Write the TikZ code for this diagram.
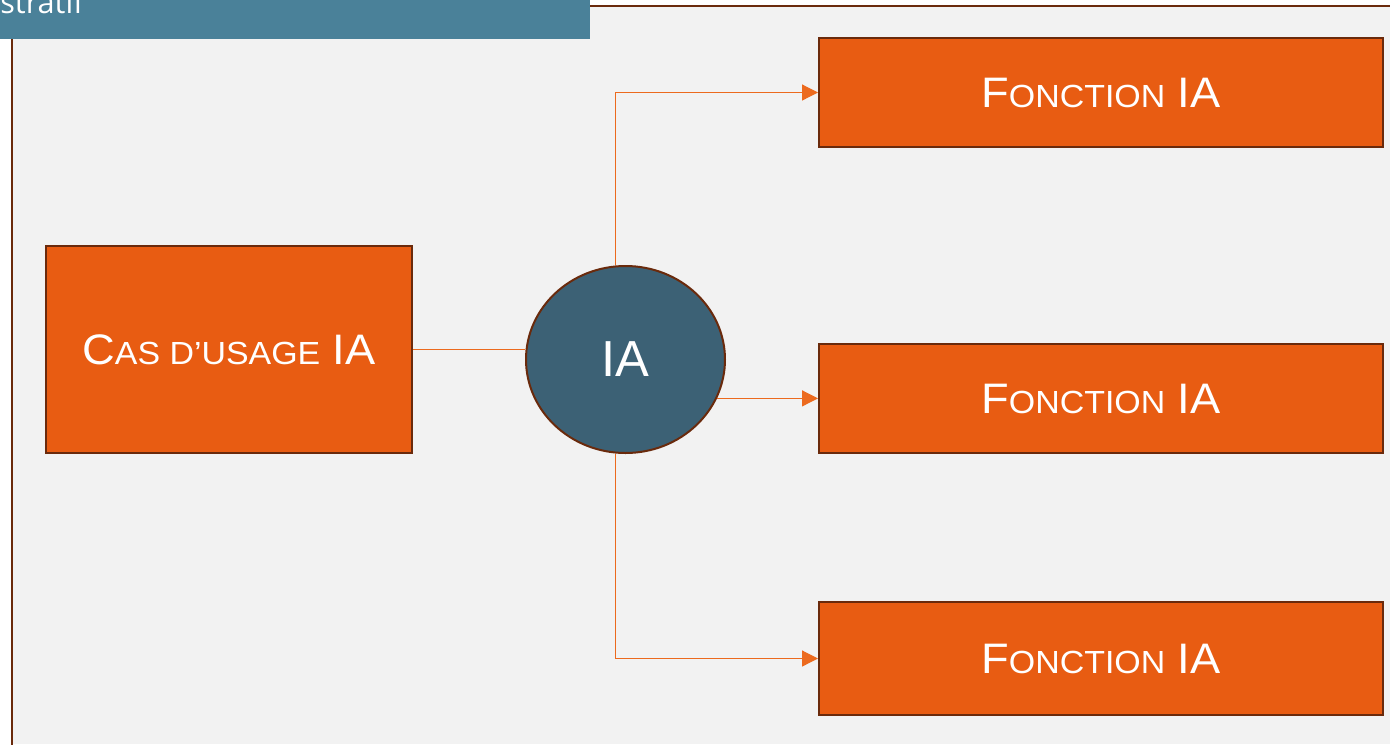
\documentclass[tikz,border=0pt]{standalone}
\usepackage{fontspec}
\setmainfont{Liberation Sans}[FakeStretch=1.06]
\newfontfamily\hubfont{Liberation Sans}
\newfontfamily\tabfont{Open Sans}
\usetikzlibrary{arrows.meta,shapes.geometric,calc}

\definecolor{pagebg}{HTML}{F2F2F2}
\definecolor{framebrown}{HTML}{6A2A0C}
\definecolor{boxorange}{HTML}{E85C12}
\definecolor{lineorange}{HTML}{EC6A1E}
\definecolor{hubblue}{HTML}{3C6175}
\definecolor{tabblue}{HTML}{4A8199}

% fake small caps: full-size capitals and reduced capitals
\newcommand{\capfull}[1]{{\fontsize{32}{38}\selectfont #1}}
\newcommand{\capsmall}[1]{{\fontsize{24}{28}\selectfont #1}}

\begin{document}
\begin{tikzpicture}[x=0.75pt,y=-0.75pt,
  box/.style={rectangle, draw=framebrown, line width=1.5pt, fill=boxorange,
    text=white, inner sep=0pt},
  hub/.style={ellipse, draw=framebrown, line width=1.5pt, fill=hubblue,
    text=white, inner sep=0pt, minimum width=149.25pt, minimum height=140.25pt,
    font=\hubfont\fontsize{38}{44}\selectfont},
  link/.style={draw=lineorange, line width=0.9pt},
  arrowlink/.style={link, -{Triangle[length=12pt,width=12pt]}}
]
\useasboundingbox (0,0) rectangle (1390,744);

% page background and frame
\fill[pagebg] (12,6) rectangle (1390,744);
\draw[framebrown, line width=1.6pt] (1392,6) -- (12,6) -- (12,746);

% title tab
\fill[tabblue] (0,0) rectangle (590,39);
\begin{scope}
  \clip (0,0) rectangle (590,39);
  \node[anchor=base east, inner sep=0pt, text=white,
    font=\tabfont\fontsize{23}{26}\selectfont] (tabtitle) at (84,13) {stratif};
\end{scope}

% use case box
\node[box, minimum width=274.5pt, minimum height=155.25pt] (usecase) at (229,349.5)
  {\capfull{C}\capsmall{AS D’USAGE}\capfull{ IA}};

% central AI hub
\node[hub] (hub) at (625.5,359.5) {IA};

% function boxes
\node[box, minimum width=423pt, minimum height=81.75pt] (f1) at (1101,92.5)
  {\capfull{F}\capsmall{ONCTION}\capfull{ IA}};
\node[box, minimum width=423pt, minimum height=81.75pt] (f2) at (1101,398.5)
  {\capfull{F}\capsmall{ONCTION}\capfull{ IA}};
\node[box, minimum width=423pt, minimum height=84.75pt] (f3) at (1101,658.5)
  {\capfull{F}\capsmall{ONCTION}\capfull{ IA}};

% connectors
\draw[link] (usecase.east) -- (usecase.east -| hub.west);
\coordinate (hubtop) at ($(hub.north)+(-10,0)$);
\coordinate (hubbottom) at ($(hub.south)+(-10,0)$);
\draw[arrowlink] (hubtop) |- (f1.west);
\draw[arrowlink] (hub.-23.3) -- (hub.-23.3 -| f2.west);
\draw[arrowlink] (hubbottom) |- (f3.west);
\end{tikzpicture}
\end{document}
